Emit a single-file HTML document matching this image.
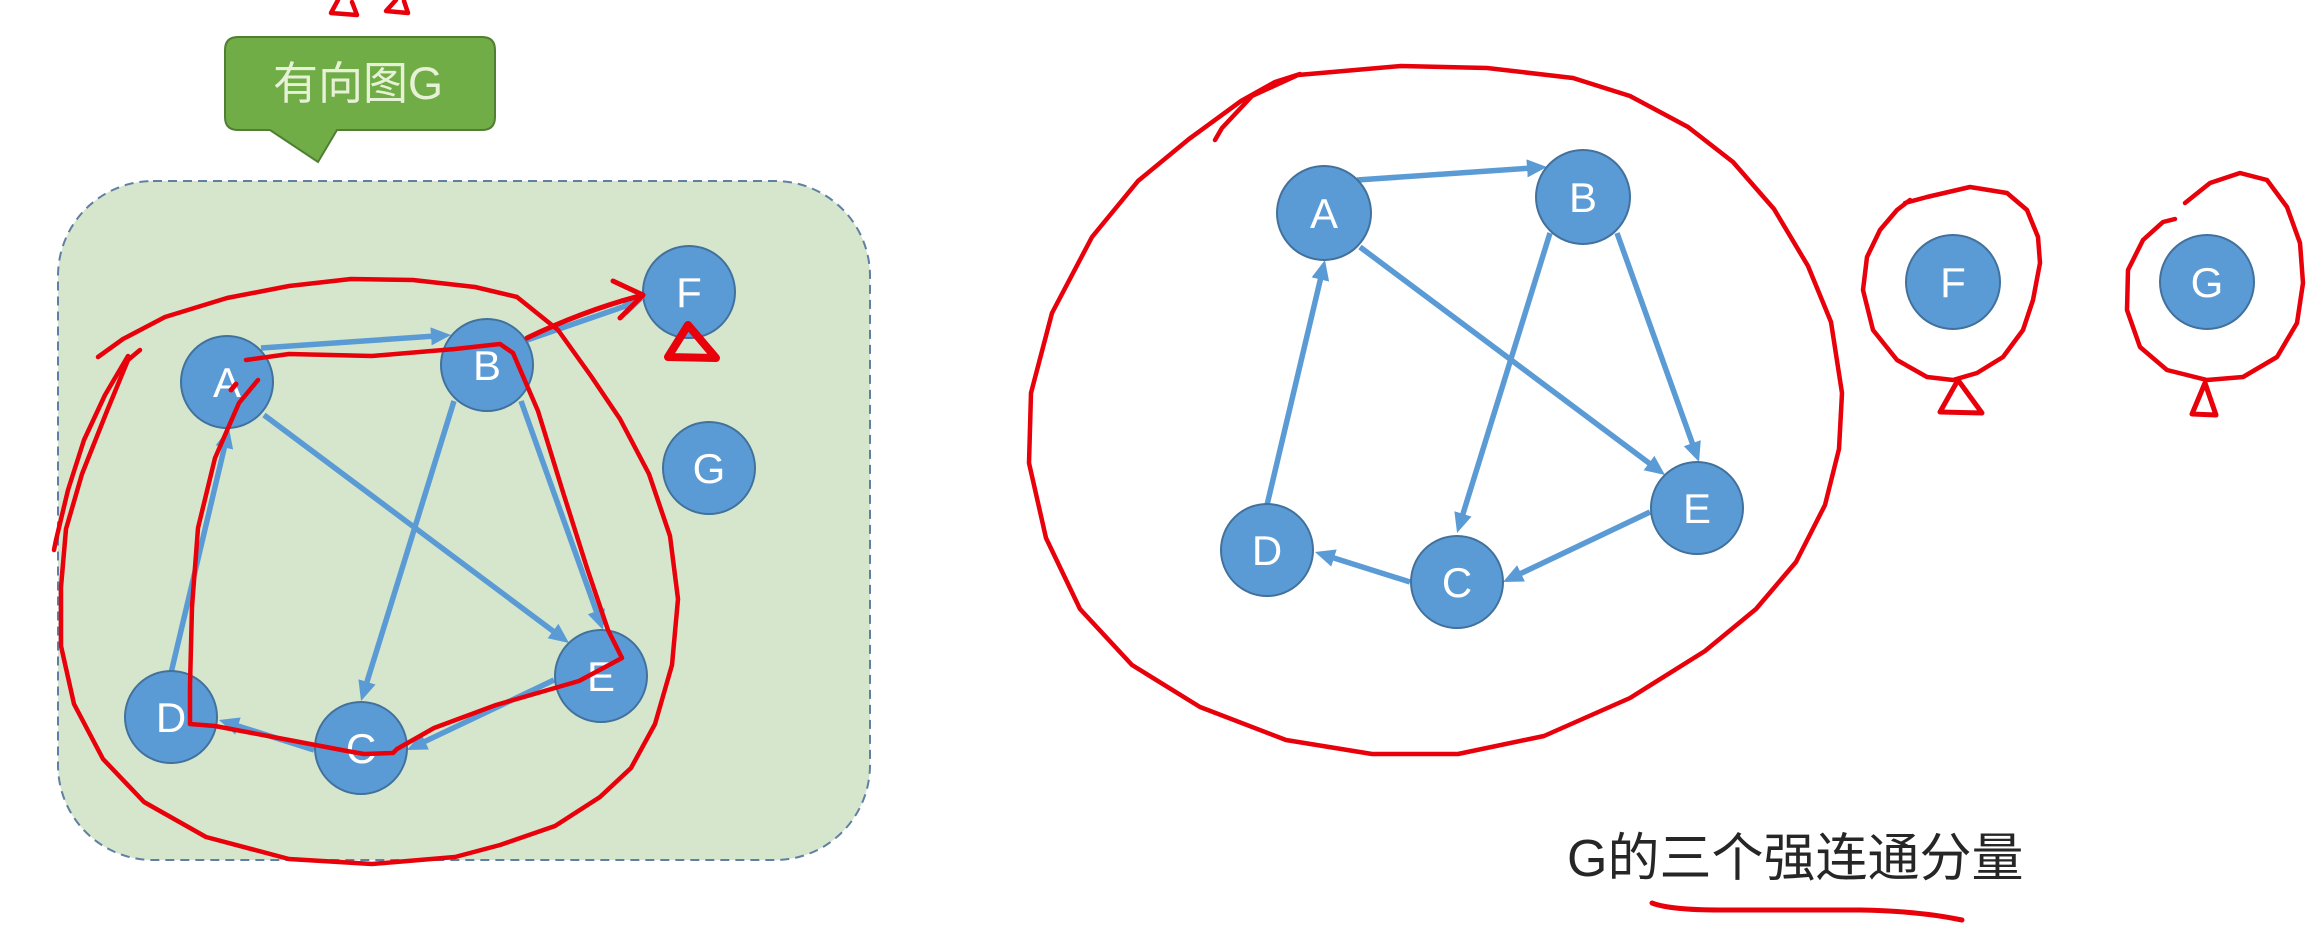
<!DOCTYPE html>
<html>
<head>
<meta charset="utf-8">
<style>
  html,body{margin:0;padding:0;background:#ffffff;}
  body{width:2310px;height:930px;overflow:hidden;}
  svg{display:block;}
  .lbl{font-family:"Liberation Sans","Noto Sans CJK SC",sans-serif;font-size:42px;fill:#ffffff;text-anchor:middle;}
</style>
</head>
<body>
<svg width="2310" height="930" viewBox="0 0 2310 930" xmlns="http://www.w3.org/2000/svg">
  <defs>
    <marker id="ah" markerWidth="20" markerHeight="18" refX="8" refY="9" orient="auto" markerUnits="userSpaceOnUse">
      <path d="M0,0 L20,9 L0,18 Z" fill="#5b9bd5"/>
    </marker>
  </defs>

  <!-- Left dashed rounded container -->
  <rect x="58" y="181" width="812" height="679" rx="95" ry="95" fill="#d5e6cd" stroke="#5f7fa3" stroke-width="2" stroke-dasharray="9 6"/>

  <!-- Callout -->
  <path d="M238,37 L482,37 Q495,37 495,50 L495,117 Q495,130 482,130 L337,130 L318,162 L270,130 L238,130 Q225,130 225,117 L225,50 Q225,37 238,37 Z" fill="#70ad47" stroke="#507e32" stroke-width="2"/>
  <text x="358" y="99" font-family="'Liberation Sans','Noto Sans CJK SC',sans-serif" font-size="45" fill="#e6f1d6" text-anchor="middle">有向图G</text>

  <!-- Shared graph edges (right coordinates); left copy translated -->
  <g id="edgesR" stroke="#5b9bd5" stroke-width="5.5" fill="none" marker-end="url(#ah)">
    <line x1="1357" y1="180" x2="1535" y2="167.8"/>
    <line x1="1360" y1="247" x2="1655.4" y2="467.8"/>
    <line x1="1550" y1="233" x2="1460.6" y2="521.5"/>
    <line x1="1617" y1="233" x2="1695" y2="450.7"/>
    <line x1="1650" y1="512" x2="1513.8" y2="576.8"/>
    <line x1="1410" y1="582" x2="1326.4" y2="555.6"/>
    <line x1="1267" y1="505" x2="1322.2" y2="271.7"/>
  </g>
  <g transform="translate(-1096,168)" stroke="#5b9bd5" stroke-width="5.5" fill="none" marker-end="url(#ah)">
    <line x1="1357" y1="180" x2="1535" y2="167.8"/>
    <line x1="1360" y1="247" x2="1655.4" y2="467.8"/>
    <line x1="1550" y1="233" x2="1460.6" y2="521.5"/>
    <line x1="1617" y1="233" x2="1695" y2="450.7"/>
    <line x1="1650" y1="512" x2="1513.8" y2="576.8"/>
    <line x1="1410" y1="582" x2="1326.4" y2="555.6"/>
    <line x1="1267" y1="505" x2="1322.2" y2="271.7"/>
  </g>
  <!-- Left B -> F -->
  <line x1="527" y1="340" x2="631.7" y2="303.9" stroke="#5b9bd5" stroke-width="5.5" marker-end="url(#ah)"/>

  <!-- Left nodes -->
  <g fill="#5b9bd5" stroke="#41719c" stroke-width="2">
    <circle cx="227" cy="382" r="46"/>
    <circle cx="487" cy="365" r="46"/>
    <circle cx="361" cy="748" r="46"/>
    <circle cx="171" cy="717" r="46"/>
    <circle cx="601" cy="676" r="46"/>
    <circle cx="689" cy="292" r="46"/>
    <circle cx="709" cy="468" r="46"/>
  </g>
  <text class="lbl" x="227" y="397">A</text>
  <text class="lbl" x="487" y="380">B</text>
  <text class="lbl" x="361" y="763">C</text>
  <text class="lbl" x="171" y="732">D</text>
  <text class="lbl" x="601" y="691">E</text>
  <text class="lbl" x="689" y="307">F</text>
  <text class="lbl" x="709" y="483">G</text>

  <!-- Right nodes -->
  <g fill="#5b9bd5" stroke="#41719c" stroke-width="2">
    <circle cx="1324" cy="213" r="47"/>
    <circle cx="1583" cy="197" r="47"/>
    <circle cx="1457" cy="582" r="46"/>
    <circle cx="1267" cy="550" r="46"/>
    <circle cx="1697" cy="508" r="46"/>
    <circle cx="1953" cy="282" r="47"/>
    <circle cx="2207" cy="282" r="47"/>
  </g>
  <text class="lbl" x="1324" y="228">A</text>
  <text class="lbl" x="1583" y="212">B</text>
  <text class="lbl" x="1457" y="597">C</text>
  <text class="lbl" x="1267" y="565">D</text>
  <text class="lbl" x="1697" y="523">E</text>
  <text class="lbl" x="1953" y="297">F</text>
  <text class="lbl" x="2207" y="297">G</text>

  <!-- Red hand-drawn annotations -->
  <g fill="none" stroke="#e8000b" stroke-width="4.5" stroke-linejoin="round" stroke-linecap="round">
    <!-- top marks -->
    <path d="M338,0 L331,13 L357,15 L352,2"/>
    <path d="M396,0 L386,11 L408,13 L404,1"/>

    <!-- left outer loop -->
    <path d="M98,357 L123,339 L165,317 L227,298 L289,286 L351,279 L413,280 L475,287 L517,297 L558,330 L591,376 L620,419 L649,474 L670,536 L678,599 L672,665 L655,724 L631,768 L600,797 L555,826 L500,845 L455,857 L372,864 L289,859 L206,837 L144,802 L103,759 L74,704 L61,646 L61,587 L66,529 L82,474 L107,411 L128,360 L140,350"/>
    <path d="M128,356 L105,395 L84,440 L68,490 L56,540 L54,550"/>

    <!-- left inner polygon -->
    <path d="M246,360 L289,354 L372,356 L455,349 L500,344 L513,353 L538,411 L562,489 L587,568 L608,630 L622,658 L579,681 L496,705 L434,728 L397,749 L393,753 L364,754 L347,751 L289,740 L215,726 L190,724 L190,685 L192,607 L198,528 L215,458 L239,403 L258,380"/>
    <path d="M231,390 L236,384" stroke-width="5"/>

    <!-- red arrow B -> F -->
    <path d="M527,338 Q585,310 643,295" stroke-width="5"/>
    <path d="M613,281 L643,295 L620,318" stroke-width="5"/>
    <!-- triangle under F -->
    <path d="M688,325 L668,357 L716,358 Z" stroke-width="8"/>

    <!-- right big circle -->
    <path d="M1215,140 L1222,128 L1252,96 L1298,75 L1401,66 L1487,68 L1573,78 L1630,96 L1688,127 L1733,162 L1774,209 L1808,266 L1831,322 L1842,393 L1839,449 L1825,505 L1796,562 L1756,609 L1705,651 L1630,698 L1544,736 L1458,754 L1372,754 L1286,740 L1200,707 L1132,665 L1080,609 L1046,538 L1029,463 L1031,393 L1052,313 L1092,237 L1138,181 L1189,139 L1241,101 L1275,82 L1300,74"/>

    <!-- F circle -->
    <path d="M1905,203 L1927,197 L1970,187 L2007,193 L2027,210 L2038,237 L2040,263 L2033,300 L2023,330 L2003,357 L1977,373 L1953,380 L1927,377 L1897,360 L1873,330 L1863,290 L1867,257 L1880,230 L1897,210 L1910,200"/>
    <path d="M1958,380 L1940,412 L1982,413 Z" stroke-width="5"/>

    <!-- G circle -->
    <path d="M2185,203 L2210,183 L2240,173 L2267,180 L2287,207 L2300,243 L2303,283 L2297,323 L2277,357 L2243,377 L2207,380 L2167,370 L2140,347 L2127,310 L2128,270 L2143,240 L2163,222 L2175,219"/>
    <path d="M2205,383 L2192,414 L2216,415 Z" stroke-width="5"/>

    <!-- underline -->
    <path d="M1652,903 Q1670,910 1720,910 L1860,910 Q1920,911 1962,920" stroke-width="5"/>
  </g>

  <!-- Bottom caption -->
  <text x="1567" y="876" font-family="'Liberation Sans','Noto Sans CJK SC',sans-serif" font-size="52" fill="#262626">G的三个强连通分量</text>
</svg>
</body>
</html>
